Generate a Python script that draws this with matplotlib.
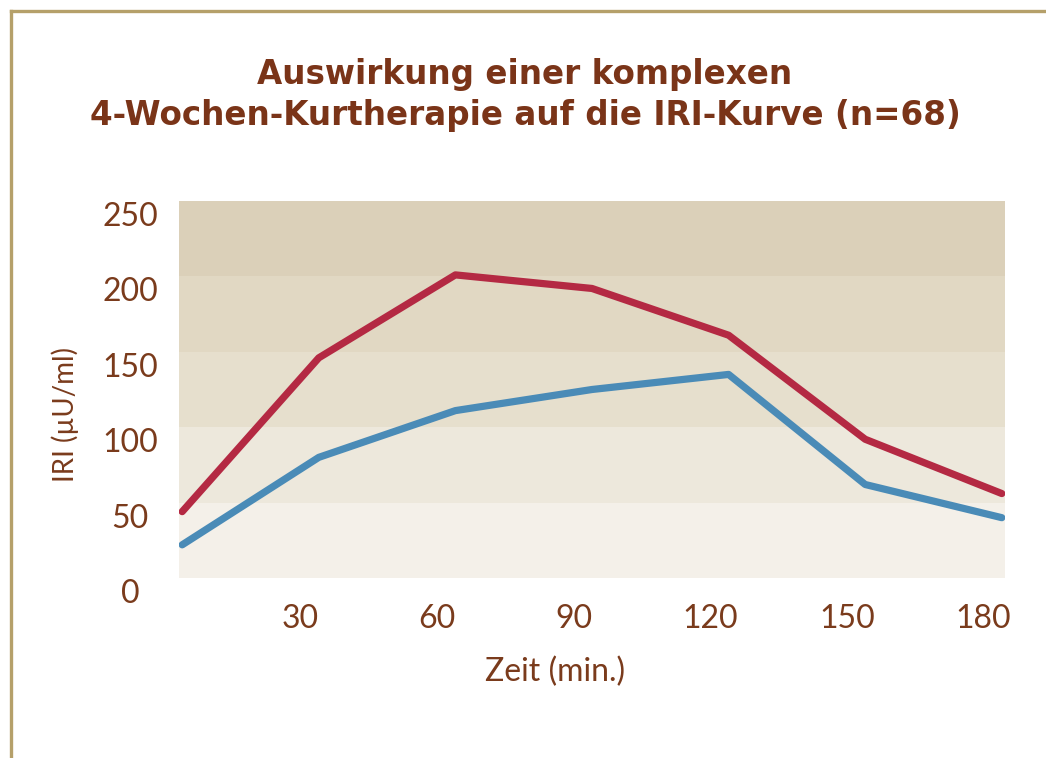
import matplotlib
matplotlib.use("Agg")
import matplotlib.pyplot as plt
from matplotlib.lines import Line2D
import matplotlib.transforms as mtransforms

# data
minutes = [0, 30, 60, 90, 120, 150, 180]
iri_before = [44, 146, 201, 192, 161, 92, 56]
iri_after = [22, 80, 111, 125, 135, 62, 40]
x_tick_labels = ["30", "60", "90", "120", "150", "180"]
y_ticks = [0, 50, 100, 150, 200, 250]

band_colors = ["#f4f0e9", "#ede8dc", "#e6dfcd", "#e1d8c3", "#dbd0b9"]
brown = "#7a3b1c"
plt.rcParams['font.family'] = ['Lato', 'DejaVu Sans']

fig = plt.figure(figsize=(10.46, 7.58), dpi=100)
ax = fig.add_axes([179 / 1046, 1 - 578 / 758, 826 / 1046, 377 / 758])

for i, c in enumerate(band_colors):
    ax.axhspan(y_ticks[i], y_ticks[i + 1], color=c, lw=0, zorder=0)

ax.plot(minutes, iri_before, color="#b42943", lw=5.2, solid_capstyle="round",
        solid_joinstyle="round", zorder=3)
ax.plot(minutes, iri_after, color="#4a8bb7", lw=5.2, solid_capstyle="round",
        solid_joinstyle="round", zorder=3)

ax.set_xlim(-0.7, 180.7)
ax.set_ylim(0, 250)
for s in ax.spines.values():
    s.set_visible(False)

# tick labels sit slightly left of their data points
ax.set_xticks([m - 4 for m in minutes[1:]])
ax.set_xticklabels(x_tick_labels)
ax.set_yticks([])
ax.tick_params(length=0, colors=brown, labelsize=23)
ax.tick_params(axis="x", pad=19)

# y labels centred left of the plot, a bit below their band edge
ylab_tr = mtransforms.blended_transform_factory(ax.transAxes, ax.transData) + \
    mtransforms.ScaledTranslation(0, -0.16, fig.dpi_scale_trans)
for v in y_ticks:
    ax.text(-49 / 826, v, str(v), transform=ylab_tr, color=brown, fontsize=23,
            ha="center", va="center")

fig.text(555 / 1046, 1 - 672 / 758, "Zeit (min.)", color=brown, fontsize=23,
         ha="center", va="center")
fig.text(65 / 1046, 1 - 415 / 758, "IRI (µU/ml)", color=brown, fontsize=20,
         ha="center", va="center", rotation=90)
fig.text(525 / 1046, 1 - 95 / 758,
         "Auswirkung einer komplexen\n4-Wochen-Kurtherapie auf die IRI-Kurve (n=68)",
         color="#7a3418", fontsize=23.5, fontweight="bold", ha="center", va="center",
         linespacing=1.3, family="DejaVu Sans")

# gold frame on the top and left
frame = "#b5a06a"
fig.add_artist(Line2D([11 / 1046, 1], [1 - 11 / 758, 1 - 11 / 758], color=frame,
                      lw=2.4, transform=fig.transFigure))
fig.add_artist(Line2D([11 / 1046, 11 / 1046], [0, 1 - 11 / 758], color=frame,
                      lw=2.4, transform=fig.transFigure))

fig.savefig("out.png", dpi=100, facecolor="white")
